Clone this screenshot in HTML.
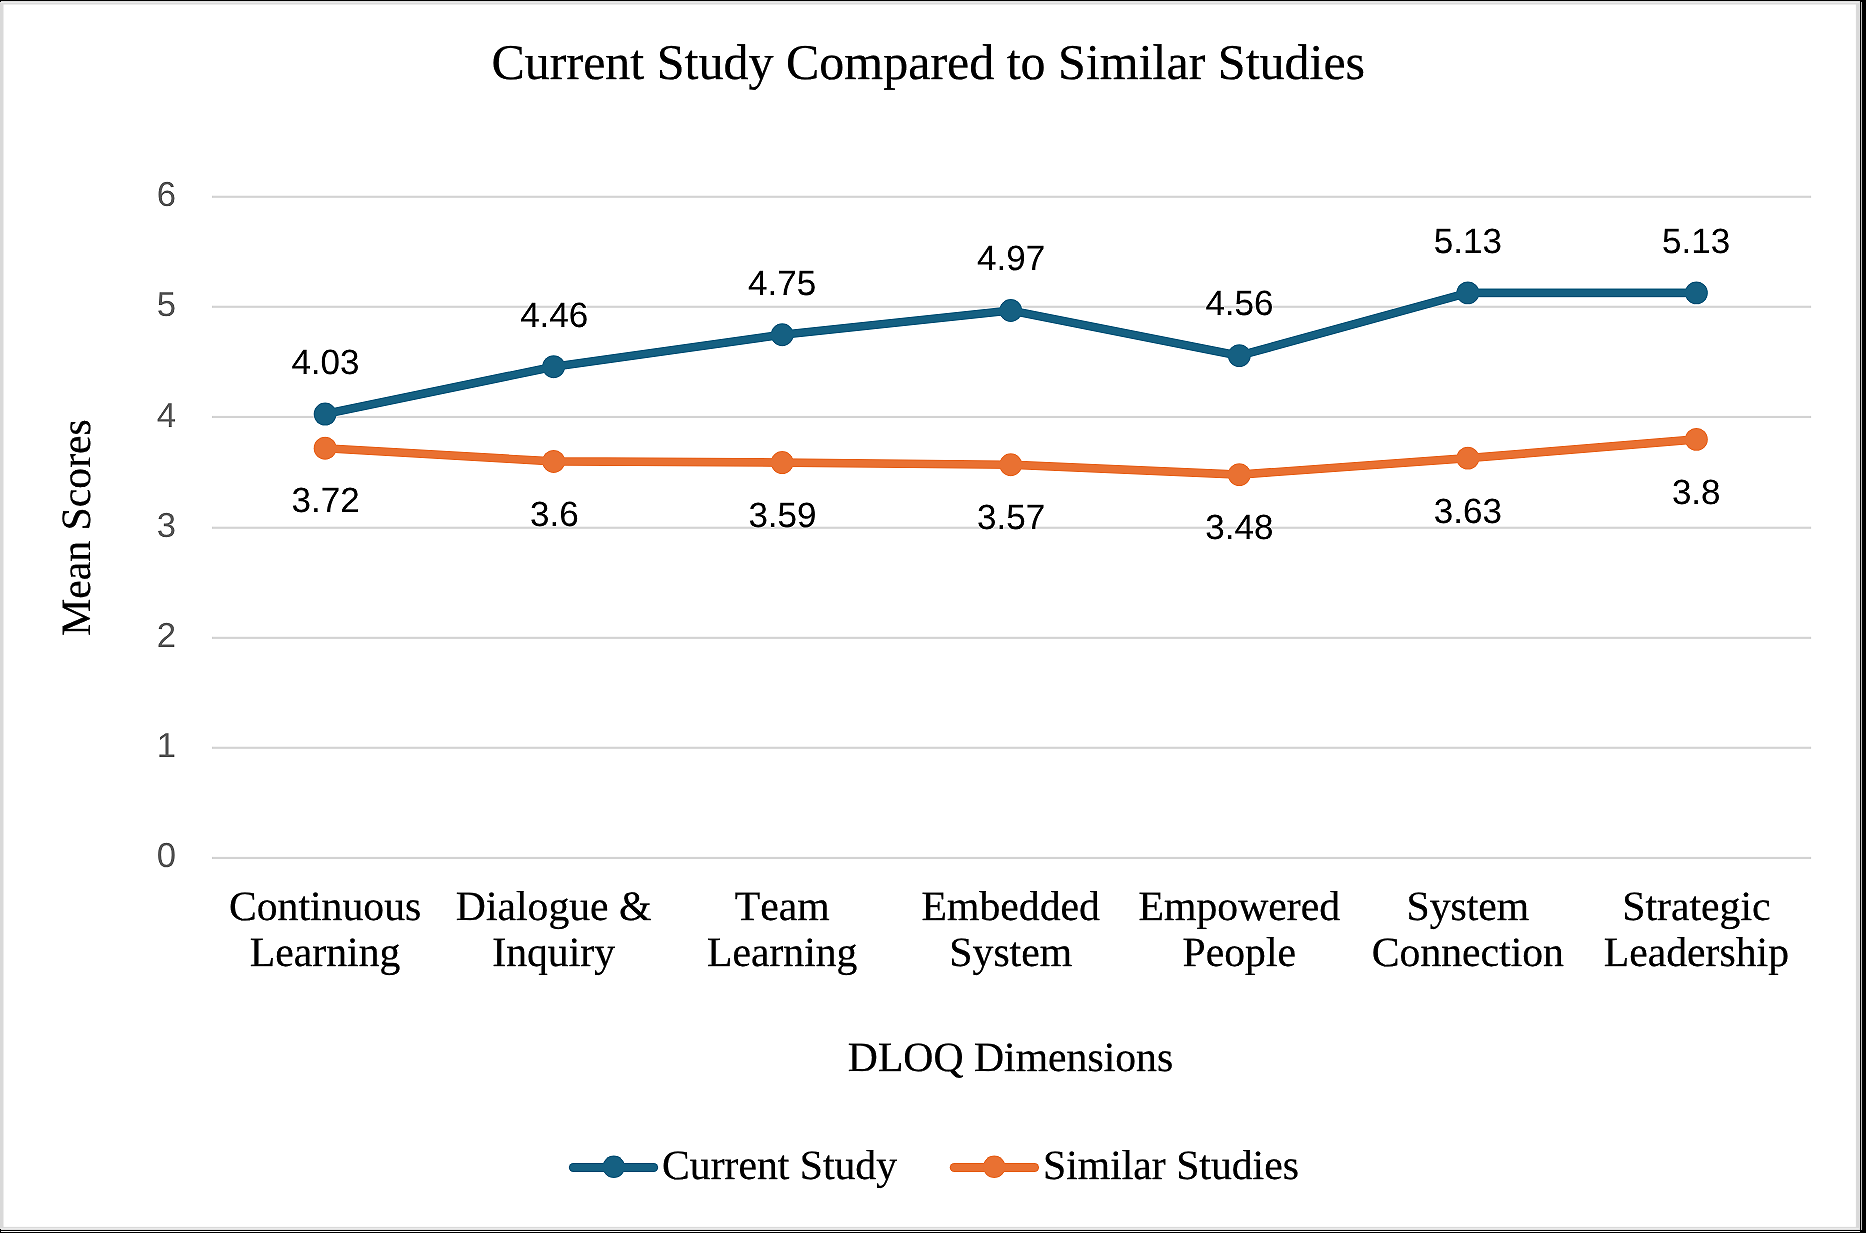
<!DOCTYPE html>
<html><head><meta charset="utf-8"><title>Current Study Compared to Similar Studies</title>
<style>
html,body{margin:0;padding:0;background:#fff;}
body{width:1866px;height:1233px;overflow:hidden;position:relative;font-family:"Liberation Sans", sans-serif;}
svg{position:absolute;left:0;top:0;display:block;will-change:transform}
.serif{font-family:"Liberation Serif", serif;fill:#000;stroke:#000;stroke-width:0.25px}
.sans{font-family:"Liberation Sans", sans-serif}
.lab{fill:#000;stroke:#000;stroke-width:0.1px}
text{text-rendering:geometricPrecision;font-kerning:none}
</style></head><body>
<svg width="1866" height="1233" viewBox="0 0 1866 1233">
<defs><filter id="sh" x="4" y="5" width="1851" height="1221" filterUnits="userSpaceOnUse" primitiveUnits="userSpaceOnUse" color-interpolation-filters="sRGB"><feConvolveMatrix order="3" kernelMatrix="0 -0.22 0 -0.22 1.88 -0.22 0 -0.22 0" divisor="1" bias="0" edgeMode="duplicate" preserveAlpha="true"/></filter></defs>

<rect x="0" y="0" width="1866" height="1233" fill="#000"/>
<rect x="0" y="1" width="1860" height="1229" fill="#e2e2e2"/>
<rect x="0" y="2" width="1859" height="1227" fill="#ebebeb"/>
<rect x="0" y="3" width="1859" height="1225" fill="#d9d9d9"/>
<rect x="3.5" y="4.5" width="1852.4" height="1222.4" fill="#fff"/>
<rect x="1" y="1231" width="1859" height="1" fill="#fff"/>
<rect x="1861" y="2" width="1" height="1228" fill="#c4c4c4"/>
<rect x="0" y="0" width="1" height="2" fill="#000"/><rect x="0" y="1229" width="1" height="4" fill="#000"/>
<g filter="url(#sh)"><rect x="4" y="5" width="1851" height="1221" fill="#fff"/>
<text class="serif" x="928.3" y="79" font-size="50" text-anchor="middle">Current Study Compared to Similar Studies</text>
<rect x="212.0" y="856.78" width="1599.2" height="2.2" fill="#d9d9d9"/>
<text class="sans" x="176.1" y="867.48" font-size="34.7" fill="#595959" text-anchor="end">0</text>
<rect x="212.0" y="746.65" width="1599.2" height="2.2" fill="#d9d9d9"/>
<text class="sans" x="176.1" y="757.35" font-size="34.7" fill="#595959" text-anchor="end">1</text>
<rect x="212.0" y="636.70" width="1599.2" height="2.2" fill="#d9d9d9"/>
<text class="sans" x="176.1" y="647.40" font-size="34.7" fill="#595959" text-anchor="end">2</text>
<rect x="212.0" y="526.62" width="1599.2" height="2.2" fill="#d9d9d9"/>
<text class="sans" x="176.1" y="537.32" font-size="34.7" fill="#595959" text-anchor="end">3</text>
<rect x="212.0" y="415.80" width="1599.2" height="2.2" fill="#d9d9d9"/>
<text class="sans" x="176.1" y="426.50" font-size="34.7" fill="#595959" text-anchor="end">4</text>
<rect x="212.0" y="305.65" width="1599.2" height="2.2" fill="#d9d9d9"/>
<text class="sans" x="176.1" y="316.35" font-size="34.7" fill="#595959" text-anchor="end">5</text>
<rect x="212.0" y="195.65" width="1599.2" height="2.2" fill="#d9d9d9"/>
<text class="sans" x="176.1" y="206.35" font-size="34.7" fill="#595959" text-anchor="end">6</text>
<text class="serif" x="325.10" y="920" font-size="41.7" text-anchor="middle">Continuous</text>
<text class="serif" x="325.10" y="966" font-size="41.7" text-anchor="middle">Learning</text>
<text class="serif" x="553.65" y="920" font-size="41.7" text-anchor="middle">Dialogue &amp;</text>
<text class="serif" x="553.65" y="966" font-size="41.7" text-anchor="middle">Inquiry</text>
<text class="serif" x="782.20" y="920" font-size="41.7" text-anchor="middle">Team</text>
<text class="serif" x="782.20" y="966" font-size="41.7" text-anchor="middle">Learning</text>
<text class="serif" x="1010.75" y="920" font-size="41.7" text-anchor="middle">Embedded</text>
<text class="serif" x="1010.75" y="966" font-size="41.7" text-anchor="middle">System</text>
<text class="serif" x="1239.30" y="920" font-size="41.7" text-anchor="middle">Empowered</text>
<text class="serif" x="1239.30" y="966" font-size="41.7" text-anchor="middle">People</text>
<text class="serif" x="1467.85" y="920" font-size="41.7" text-anchor="middle">System</text>
<text class="serif" x="1467.85" y="966" font-size="41.7" text-anchor="middle">Connection</text>
<text class="serif" x="1696.40" y="920" font-size="41.7" text-anchor="middle">Strategic</text>
<text class="serif" x="1696.40" y="966" font-size="41.7" text-anchor="middle">Leadership</text>
<text class="serif" x="1010.5" y="1070.8" font-size="41.7" text-anchor="middle">DLOQ Dimensions</text>
<text class="serif" transform="translate(90,527.5) rotate(-90)" font-size="41.7" text-anchor="middle">Mean Scores</text>
<polyline points="325.10,414.06 553.65,366.69 782.20,334.74 1010.75,310.51 1239.30,355.67 1467.85,292.88 1696.40,292.88" fill="none" stroke="#156082" stroke-width="8.7" stroke-linejoin="round" stroke-linecap="round"/>
<circle cx="325.10" cy="414.06" r="11.45" fill="#156082"/>
<circle cx="553.65" cy="366.69" r="11.45" fill="#156082"/>
<circle cx="782.20" cy="334.74" r="11.45" fill="#156082"/>
<circle cx="1010.75" cy="310.51" r="11.45" fill="#156082"/>
<circle cx="1239.30" cy="355.67" r="11.45" fill="#156082"/>
<circle cx="1467.85" cy="292.88" r="11.45" fill="#156082"/>
<circle cx="1696.40" cy="292.88" r="11.45" fill="#156082"/>
<polyline points="325.10,448.22 553.65,461.44 782.20,462.54 1010.75,464.74 1239.30,474.66 1467.85,458.13 1696.40,439.40" fill="none" stroke="#e97132" stroke-width="8.7" stroke-linejoin="round" stroke-linecap="round"/>
<circle cx="325.10" cy="448.22" r="11.45" fill="#e97132"/>
<circle cx="553.65" cy="461.44" r="11.45" fill="#e97132"/>
<circle cx="782.20" cy="462.54" r="11.45" fill="#e97132"/>
<circle cx="1010.75" cy="464.74" r="11.45" fill="#e97132"/>
<circle cx="1239.30" cy="474.66" r="11.45" fill="#e97132"/>
<circle cx="1467.85" cy="458.13" r="11.45" fill="#e97132"/>
<circle cx="1696.40" cy="439.40" r="11.45" fill="#e97132"/>
<text class="sans lab" x="325.44" y="374" font-size="35" text-anchor="middle">4.03</text>
<text class="sans lab" x="554.20" y="327" font-size="35" text-anchor="middle">4.46</text>
<text class="sans lab" x="782.12" y="295" font-size="35" text-anchor="middle">4.75</text>
<text class="sans lab" x="1011.13" y="270" font-size="35" text-anchor="middle">4.97</text>
<text class="sans lab" x="1239.47" y="315" font-size="35" text-anchor="middle">4.56</text>
<text class="sans lab" x="1467.90" y="253" font-size="35" text-anchor="middle">5.13</text>
<text class="sans lab" x="1696.10" y="253" font-size="35" text-anchor="middle">5.13</text>
<text class="sans lab" x="325.64" y="512" font-size="35" text-anchor="middle">3.72</text>
<text class="sans lab" x="554.31" y="526" font-size="35" text-anchor="middle">3.6</text>
<text class="sans lab" x="782.48" y="527" font-size="35" text-anchor="middle">3.59</text>
<text class="sans lab" x="1011.13" y="529" font-size="35" text-anchor="middle">3.57</text>
<text class="sans lab" x="1239.38" y="539" font-size="35" text-anchor="middle">3.48</text>
<text class="sans lab" x="1467.90" y="523" font-size="35" text-anchor="middle">3.63</text>
<text class="sans lab" x="1696.21" y="504" font-size="35" text-anchor="middle">3.8</text>
<line x1="573.4" y1="1167.55" x2="653.6" y2="1167.55" stroke="#156082" stroke-width="9.1" stroke-linecap="round"/><circle cx="613.8" cy="1166.8" r="11.2" fill="#156082"/>
<text class="serif" x="662" y="1179" font-size="41.7">Current Study</text>
<line x1="954.3" y1="1167.55" x2="1034.5" y2="1167.55" stroke="#e97132" stroke-width="9.1" stroke-linecap="round"/><circle cx="994.25" cy="1166.8" r="11.2" fill="#e97132"/>
<text class="serif" x="1043" y="1179" font-size="41.7">Similar Studies</text>
</g></svg></body></html>
